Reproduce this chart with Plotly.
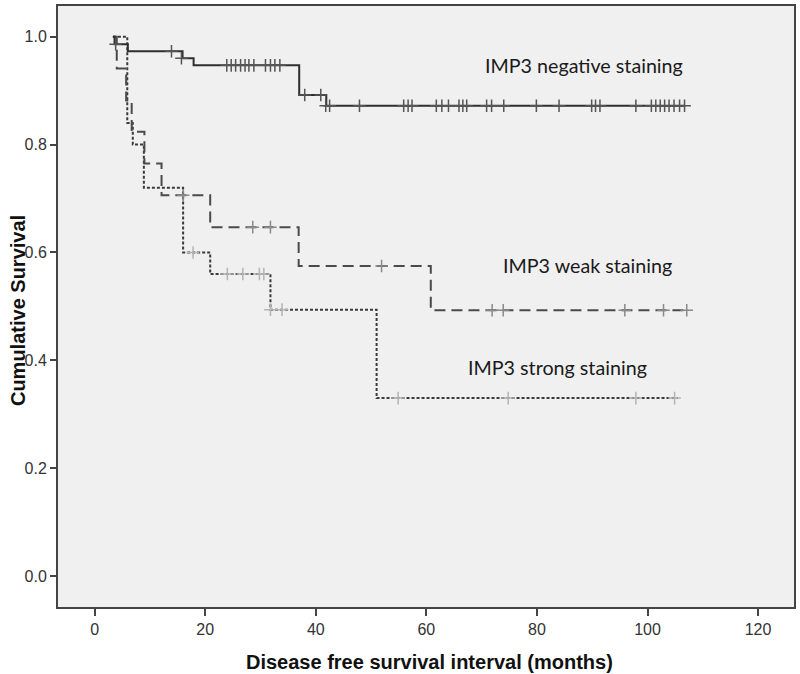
import plotly.graph_objects as go

# ---- data (months, cumulative survival) ----
neg_t = [3.3, 3.6, 6.0, 15.9, 17.9, 37.0, 41.9, 106.7]
neg_s = [1.000, 0.986, 0.973, 0.960, 0.947, 0.892, 0.872, 0.872]
neg_cens_t = [3.8, 13.9, 15.7,
              23.9, 24.7, 25.5, 26.4, 27.2, 27.9, 28.8,
              30.9, 31.8, 32.6, 33.5,
              38.0, 40.9,
              41.8, 42.5, 47.9, 55.9, 56.7, 57.4, 61.8, 62.8, 64.0, 65.9, 66.6, 67.3,
              70.9, 71.8, 74.0, 79.9, 84.0, 89.9, 90.6, 91.4, 97.9,
              100.7, 101.5, 102.3, 103.1, 103.9, 104.8, 105.8, 106.7]
neg_cens_s = [0.986, 0.973, 0.960] + [0.947] * 11 + [0.892] * 2 + [0.872] * 29

weak_t = [3.3, 4.0, 5.7, 6.7, 9.0, 12.1, 20.9, 36.9, 60.8, 107.1]
weak_s = [1.000, 0.941, 0.882, 0.824, 0.765, 0.706, 0.647, 0.575, 0.493, 0.493]
weak_cens_t = [16.0, 28.6, 31.8, 51.9, 71.9, 73.9, 95.9, 102.9, 107.1]
weak_cens_s = [0.706, 0.647, 0.647, 0.575, 0.493, 0.493, 0.493, 0.493, 0.493]

strong_t = [3.3, 5.9, 6.9, 8.9, 16.0, 20.9, 31.8, 51.0, 105.5]
strong_s = [1.000, 0.840, 0.800, 0.720, 0.600, 0.560, 0.494, 0.330, 0.330]
strong_cens_t = [17.8, 24.0, 26.8, 29.8, 30.6, 31.8, 33.9, 54.9, 74.8, 97.9, 104.9]
strong_cens_s = [0.600, 0.560, 0.560, 0.560, 0.560, 0.494, 0.494, 0.330, 0.330, 0.330, 0.330]

x_ticks = [0, 20, 40, 60, 80, 100, 120]
y_ticks = [0.0, 0.2, 0.4, 0.6, 0.8, 1.0]

labels = ["IMP3 negative staining", "IMP3 weak staining", "IMP3 strong staining"]
label_x = [88.5, 89.2, 83.8]      # months
label_y = [0.946, 0.575, 0.386]

fig = go.Figure()

def add_curve(t, s, ct, cs, color, dash, width, mcolor):
    fig.add_trace(go.Scatter(x=t, y=s, mode="lines", line=dict(color=color, dash=dash, width=width, shape="hv"),
                             showlegend=False, hoverinfo="skip"))
    fig.add_trace(go.Scatter(x=ct, y=cs, mode="markers",
                             marker=dict(symbol="cross-thin-open", size=9, color=mcolor,
                                         line=dict(color=mcolor, width=1.5)),
                             showlegend=False, hoverinfo="skip"))

add_curve(strong_t, strong_s, strong_cens_t, strong_cens_s, "#3a3a3a", "3px,2px", 2, "#b4b4b4")
add_curve(weak_t, weak_s, weak_cens_t, weak_cens_s, "#4a4a4a", "11px,6px", 2, "#8a8a8a")
add_curve(neg_t, neg_s, neg_cens_t, neg_cens_s, "#2e2e2e", "solid", 2, "#555555")

for txt, lx, ly in zip(labels, label_x, label_y):
    fig.add_annotation(x=lx, y=ly, xref="x", yref="y", text=txt, showarrow=False,
                       font=dict(family="Lato, Calibri, Carlito, sans-serif", size=19.7, color="#1a1a1a"),
                       xanchor="center", yanchor="middle")

title_font = dict(family="Liberation Sans Narrow, Liberation Sans, Arial, sans-serif", size=20, color="#111111",
                  weight="bold")
fig.add_annotation(x=0.505, y=-0.0912, xref="paper", yref="paper", text="Disease free survival interval (months)",
                   showarrow=False, font=title_font, xanchor="center", yanchor="middle")
fig.add_annotation(x=-0.0543, y=0.4925, xref="paper", yref="paper", text="Cumulative Survival",
                   showarrow=False, font=title_font, xanchor="center", yanchor="middle", textangle=-90)

tick_font = dict(family="Liberation Sans Narrow, Liberation Sans, Arial, sans-serif", size=16, color="#333333")
fig.update_xaxes(range=[-6.63, 126.5], tickvals=x_ticks, ticktext=[str(v) for v in x_ticks],
                 ticks="outside", ticklen=7, tickwidth=2, tickcolor="#444444",
                 showline=True, linecolor="#444444", linewidth=2, mirror=True,
                 showgrid=False, zeroline=False, tickfont=tick_font)
fig.update_yaxes(range=[-0.0573, 1.057], tickvals=y_ticks, ticktext=[f"{v:.1f}" for v in y_ticks],
                 ticks="outside", ticklen=6, tickwidth=2, tickcolor="#444444",
                 showline=True, linecolor="#444444", linewidth=2, mirror=True,
                 showgrid=False, zeroline=False, tickfont=tick_font)

fig.update_layout(width=800, height=674, margin=dict(l=58, r=6, t=4, b=67),
                  plot_bgcolor="#f0f0f0", paper_bgcolor="#ffffff", showlegend=False)

fig.write_html("out.html", config={"displayModeBar": False},
               post_script="document.body.style.margin='0';document.body.style.padding='0';")
